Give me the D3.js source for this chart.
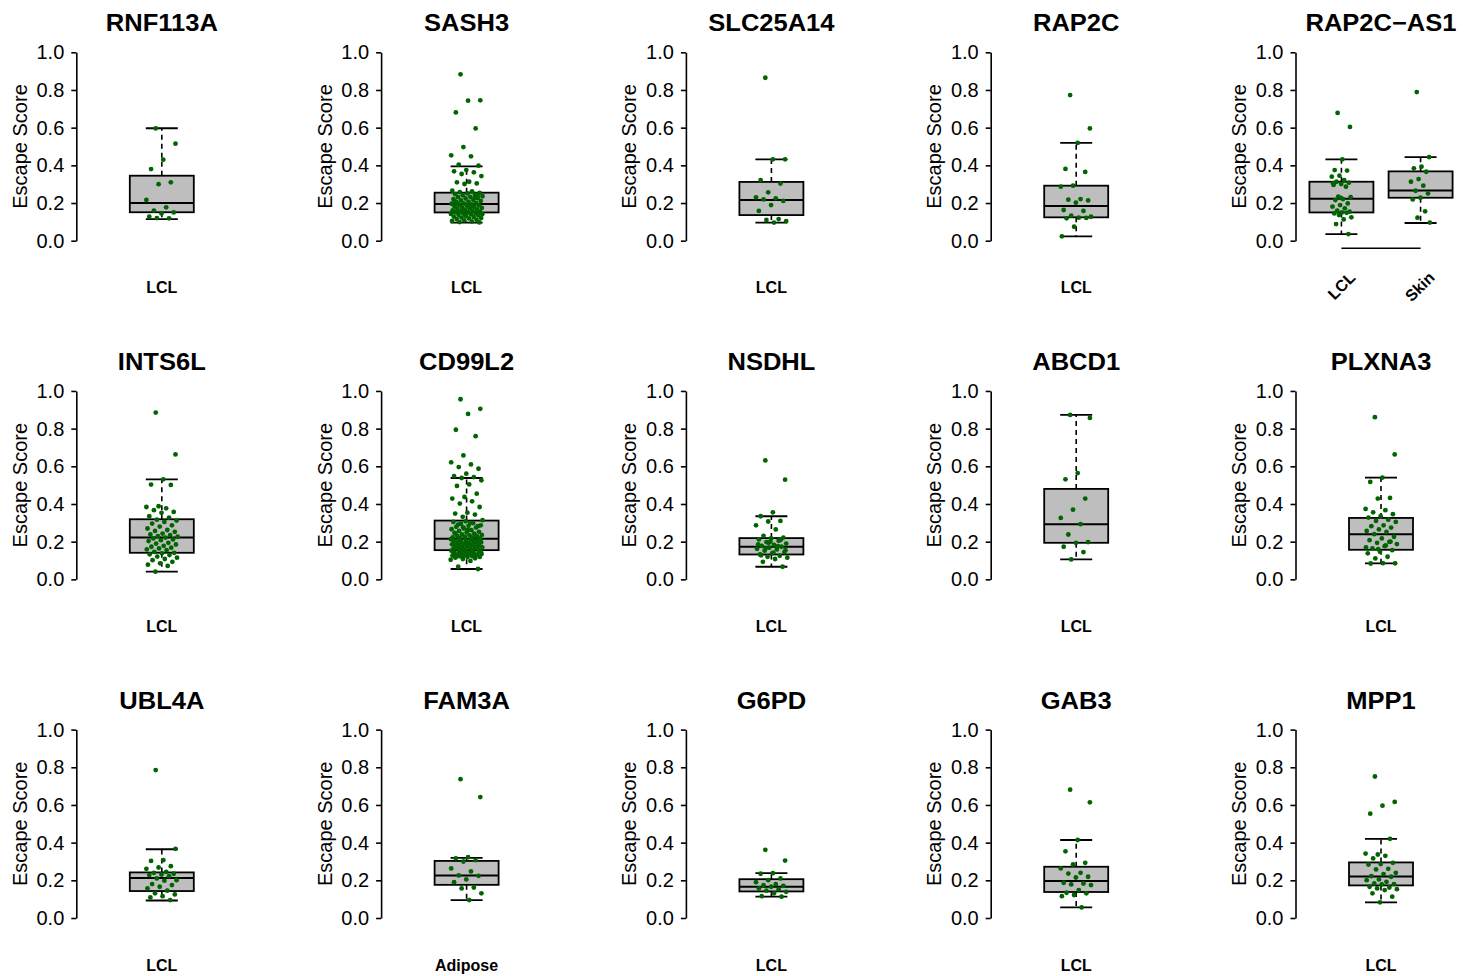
<!DOCTYPE html>
<html>
<head>
<meta charset="utf-8">
<script src="https://cdn.jsdelivr.net/npm/d3@7"></script>
<style>
  body { margin: 0; background: #fff; }
  text { font-family: "Liberation Sans", Arial, Helvetica, sans-serif; }
</style>
</head>
<body>
<svg id="chart" width="1472" height="976"></svg>
<script>
// gene panels, in reading order
const genes = ["RNF113A", "SASH3", "SLC25A14", "RAP2C", "RAP2C\u2212AS1",
               "INTS6L", "CD99L2", "NSDHL", "ABCD1", "PLXNA3",
               "UBL4A", "FAM3A", "G6PD", "GAB3", "MPP1"];

const tissues = [["LCL"], ["LCL"], ["LCL"], ["LCL"], ["LCL", "Skin"],
                 ["LCL"], ["LCL"], ["LCL"], ["LCL"], ["LCL"],
                 ["LCL"], ["Adipose"], ["LCL"], ["LCL"], ["LCL"]];

// box stats per tissue: [lower whisker, Q1, median, Q3, upper whisker]
const boxStats = [
  [[0.115, 0.151, 0.200, 0.345, 0.597]],
  [[0.096, 0.150, 0.195, 0.255, 0.395]],
  [[0.096, 0.136, 0.216, 0.312, 0.432]],
  [[0.023, 0.124, 0.184, 0.292, 0.519]],
  [[0.035, 0.150, 0.223, 0.313, 0.432], [0.094, 0.228, 0.267, 0.368, 0.444]],
  [[0.041, 0.141, 0.222, 0.319, 0.531]],
  [[0.055, 0.155, 0.215, 0.312, 0.538]],
  [[0.067, 0.132, 0.173, 0.219, 0.335]],
  [[0.106, 0.194, 0.293, 0.480, 0.873]],
  [[0.085, 0.157, 0.240, 0.326, 0.540]],
  [[0.093, 0.143, 0.212, 0.242, 0.365]],
  [[0.095, 0.176, 0.226, 0.303, 0.319]],
  [[0.113, 0.141, 0.166, 0.206, 0.238]],
  [[0.056, 0.138, 0.196, 0.272, 0.414]],
  [[0.083, 0.173, 0.220, 0.295, 0.420]]
];

// escape scores (one array per gene / tissue)
const RNF113A_LCL = [0.596, 0.515, 0.43, 0.38, 0.31, 0.30, 0.216, 0.177, 0.16, 0.15, 0.145, 0.127, 0.119, 0.12];
const SASH3_LCL = [0.883, 0.745, 0.743, 0.681, 0.596, 0.497, 0.453, 0.448, 0.404, 0.398, 0.375, 0.368, 0.363,
  0.354, 0.343, 0.313, 0.31, 0.304, 0.301, 0.265, 0.262, 0.258, 0.254, 0.251, 0.247, 0.244, 0.241, 0.236,
  0.233, 0.231, 0.226, 0.224, 0.221, 0.217, 0.214, 0.211, 0.207, 0.204, 0.2, 0.198, 0.196, 0.193, 0.19, 0.188,
  0.186, 0.182, 0.179, 0.177, 0.174, 0.172, 0.169, 0.166, 0.164, 0.161, 0.158, 0.156, 0.154, 0.152, 0.15,
  0.147, 0.145, 0.142, 0.14, 0.137, 0.134, 0.131, 0.128, 0.126, 0.123, 0.12, 0.118, 0.115, 0.112, 0.108,
  0.105, 0.102, 0.099, 0.097, 0.189, 0.21, 0.227, 0.163, 0.141, 0.175, 0.195, 0.238, 0.133, 0.155];
const SLC25A14_LCL = [0.865, 0.432, 0.432, 0.322, 0.303, 0.257, 0.23, 0.225, 0.219, 0.211, 0.189, 0.158, 0.115, 0.11, 0.104, 0.096];
const RAP2C_LCL = [0.773, 0.596, 0.519, 0.381, 0.365, 0.292, 0.287, 0.221, 0.218, 0.214, 0.202, 0.163, 0.158,
  0.133, 0.127, 0.122, 0.119, 0.121, 0.074, 0.023];
const RAP2CAS1_LCL = [0.678, 0.604, 0.432, 0.375, 0.372, 0.345, 0.34, 0.322, 0.313, 0.308, 0.301, 0.296, 0.287,
  0.234, 0.231, 0.221, 0.216, 0.198, 0.189, 0.181, 0.172, 0.159, 0.154, 0.15, 0.145, 0.148, 0.136, 0.124,
  0.113, 0.088, 0.035, 0.227, 0.305];
const RAP2CAS1_Skin = [0.789, 0.444, 0.393, 0.384, 0.366, 0.327, 0.313, 0.292, 0.265, 0.251, 0.228, 0.219, 0.156, 0.122, 0.096];
const INTS6L_LCL = [0.885, 0.663, 0.531, 0.503, 0.501, 0.388, 0.384, 0.377, 0.367, 0.358, 0.353, 0.335, 0.328,
  0.317, 0.312, 0.305, 0.296, 0.287, 0.28, 0.27, 0.262, 0.257, 0.252, 0.243, 0.238, 0.235, 0.229, 0.226,
  0.222, 0.217, 0.212, 0.208, 0.203, 0.194, 0.19, 0.185, 0.178, 0.173, 0.168, 0.164, 0.159, 0.155, 0.146,
  0.141, 0.138, 0.133, 0.129, 0.121, 0.115, 0.108, 0.102, 0.093, 0.085, 0.078, 0.071, 0.041];
const CD99L2_LCL = [0.956, 0.905, 0.878, 0.794, 0.76, 0.658, 0.621, 0.61, 0.596, 0.587, 0.561, 0.548, 0.543,
  0.538, 0.526, 0.504, 0.496, 0.455, 0.437, 0.429, 0.414, 0.402, 0.384, 0.354, 0.349, 0.344, 0.332, 0.314,
  0.3, 0.291, 0.282, 0.308, 0.305, 0.298, 0.294, 0.287, 0.284, 0.279, 0.275, 0.27, 0.266, 0.261, 0.257,
  0.252, 0.249, 0.246, 0.242, 0.239, 0.236, 0.233, 0.23, 0.228, 0.225, 0.223, 0.221, 0.219, 0.217, 0.262,
  0.244, 0.231, 0.276, 0.213, 0.211, 0.209, 0.207, 0.205, 0.202, 0.2, 0.198, 0.196, 0.194, 0.192, 0.19,
  0.188, 0.186, 0.184, 0.182, 0.18, 0.178, 0.176, 0.174, 0.172, 0.17, 0.168, 0.166, 0.164, 0.162, 0.16,
  0.158, 0.156, 0.203, 0.187, 0.171, 0.195, 0.154, 0.152, 0.15, 0.147, 0.146, 0.143, 0.142, 0.139, 0.138,
  0.135, 0.134, 0.131, 0.13, 0.127, 0.126, 0.123, 0.122, 0.119, 0.118, 0.115, 0.112, 0.108, 0.104, 0.098,
  0.067, 0.055, 0.149, 0.141, 0.133, 0.128, 0.145, 0.137, 0.121];
const NSDHL_LCL = [0.631, 0.529, 0.356, 0.335, 0.31, 0.307, 0.287, 0.265, 0.231, 0.222, 0.217, 0.212, 0.205,
  0.198, 0.19, 0.183, 0.178, 0.173, 0.168, 0.162, 0.159, 0.152, 0.145, 0.138, 0.132, 0.125, 0.12, 0.115,
  0.108, 0.093, 0.067, 0.2, 0.186, 0.176, 0.165, 0.155, 0.142, 0.128, 0.21, 0.194];
const ABCD1_LCL = [0.873, 0.857, 0.564, 0.531, 0.429, 0.37, 0.326, 0.293, 0.238, 0.198, 0.194, 0.173, 0.145, 0.106];
const PLXNA3_LCL = [0.861, 0.663, 0.54, 0.517, 0.432, 0.429, 0.374, 0.367, 0.356, 0.346, 0.335, 0.328, 0.317,
  0.31, 0.305, 0.287, 0.282, 0.275, 0.265, 0.257, 0.252, 0.24, 0.226, 0.217, 0.208, 0.199, 0.194, 0.187,
  0.176, 0.164, 0.155, 0.146, 0.138, 0.12, 0.111, 0.085, 0.086, 0.084, 0.2, 0.16, 0.17, 0.18];
const UBL4A_LCL = [0.785, 0.367, 0.307, 0.303, 0.275, 0.268, 0.261, 0.245, 0.24, 0.235, 0.231, 0.228, 0.222,
  0.21, 0.201, 0.198, 0.18, 0.175, 0.166, 0.157, 0.145, 0.131, 0.125, 0.116, 0.109, 0.095];
const FAM3A_Adipose = [0.737, 0.642, 0.323, 0.317, 0.307, 0.3, 0.263, 0.247, 0.226, 0.224, 0.205, 0.19, 0.162, 0.157, 0.131, 0.095];
const G6PD_LCL = [0.362, 0.305, 0.238, 0.235, 0.21, 0.201, 0.19, 0.18, 0.175, 0.171, 0.166, 0.157, 0.152, 0.145, 0.139, 0.131, 0.116, 0.113];
const GAB3_LCL = [0.681, 0.614, 0.414, 0.354, 0.293, 0.284, 0.263, 0.24, 0.236, 0.219, 0.215, 0.187, 0.183,
  0.178, 0.175, 0.148, 0.134, 0.131, 0.122, 0.116, 0.056];
const MPP1_LCL = [0.751, 0.616, 0.596, 0.554, 0.42, 0.337, 0.342, 0.33, 0.316, 0.293, 0.286, 0.284, 0.261,
  0.258, 0.24, 0.233, 0.222, 0.219, 0.205, 0.201, 0.192, 0.183, 0.18, 0.178, 0.166, 0.162, 0.157, 0.153,
  0.148, 0.131, 0.113, 0.083];

const scores = [[RNF113A_LCL], [SASH3_LCL], [SLC25A14_LCL], [RAP2C_LCL], [RAP2CAS1_LCL, RAP2CAS1_Skin],
  [INTS6L_LCL], [CD99L2_LCL], [NSDHL_LCL], [ABCD1_LCL], [PLXNA3_LCL],
  [UBL4A_LCL], [FAM3A_Adipose], [G6PD_LCL], [GAB3_LCL], [MPP1_LCL]];

const yTicks = [0, 0.2, 0.4, 0.6, 0.8, 1.0];

// layout
const svg = d3.select("#chart");
const colStep = 304.8, rowStep = 338.65;
const axisX0 = 76.3, zeroY0 = 240.7, plotH = 188.4, plotW = 171;
const boxW = 64;

genes.forEach((gene, i) => {
  const col = i % 5, row = Math.floor(i / 5);
  const ax = axisX0 + col * colStep;
  const zy = zeroY0 + row * rowStep;
  const groups = tissues[i];
  const n = groups.length;

  const y = d3.scaleLinear().domain([0, 1]).range([zy, zy - plotH]);
  const x = d3.scaleLinear()
    .domain(n === 1 ? [0.46, 1.54] : [0.42, 2.58])
    .range([ax, ax + plotW]);
  const jit = n === 1 ? 16 : 10;

  const g = svg.append("g");

  // title (reference glyphs are a bit wider than Liberation's)
  g.append("text")
    .attr("transform", `translate(${ax + plotW / 2},${zy - 209.5}) scale(1.11,1)`)
    .attr("text-anchor", "middle")
    .attr("font-size", 23)
    .attr("font-weight", "bold")
    .text(gene);

  // y axis
  const yAxis = g.append("g")
    .attr("transform", `translate(${ax},0)`)
    .call(d3.axisLeft(y).tickValues(yTicks).tickFormat(d3.format(".1f"))
      .tickSize(5).tickSizeOuter(0).tickPadding(7));
  yAxis.selectAll("path, line").attr("stroke", "#000").attr("stroke-width", 1.6);
  yAxis.selectAll("text")
    .attr("font-size", 20)
    .attr("fill", "#000")
    .style("font-family", "'Liberation Sans', Arial, sans-serif");

  g.append("text")
    .attr("transform", `translate(${ax - 49.5},${y(0.5)}) rotate(-90)`)
    .attr("text-anchor", "middle")
    .attr("font-size", 20)
    .text("Escape Score");

  groups.forEach((tissue, k) => {
    const cx = x(k + 1);
    const [lo, q1, med, q3, hi] = boxStats[i][k];

    // whiskers
    g.append("line")
      .attr("x1", cx).attr("x2", cx)
      .attr("y1", y(q3)).attr("y2", y(hi))
      .attr("stroke", "#000").attr("stroke-width", 1.6)
      .attr("stroke-dasharray", "5,4");
    g.append("line")
      .attr("x1", cx).attr("x2", cx)
      .attr("y1", y(q1)).attr("y2", y(lo))
      .attr("stroke", "#000").attr("stroke-width", 1.6)
      .attr("stroke-dasharray", "5,4");
    [lo, hi].forEach(v => {
      g.append("line")
        .attr("x1", cx - boxW / 4).attr("x2", cx + boxW / 4)
        .attr("y1", y(v)).attr("y2", y(v))
        .attr("stroke", "#000").attr("stroke-width", 1.8);
    });

    // box
    g.append("rect")
      .attr("x", cx - boxW / 2)
      .attr("width", boxW)
      .attr("y", y(q3))
      .attr("height", y(q1) - y(q3))
      .attr("fill", "#bebebe")
      .attr("stroke", "#000")
      .attr("stroke-width", 1.8);
    g.append("line")
      .attr("x1", cx - boxW / 2).attr("x2", cx + boxW / 2)
      .attr("y1", y(med)).attr("y2", y(med))
      .attr("stroke", "#000").attr("stroke-width", 2);

    // jittered points
    g.selectAll(null)
      .data(scores[i][k])
      .enter().append("circle")
      .attr("cx", (d, j) => cx + (((j * 0.6180339887 + 0.31) % 1) * 2 - 1) * jit)
      .attr("cy", d => y(d))
      .attr("r", 2.4)
      .attr("fill", "#006400");

    // tissue labels
    if (n === 1) {
      g.append("text")
        .attr("x", cx)
        .attr("y", zy + 52.5)
        .attr("text-anchor", "middle")
        .attr("font-size", 16)
        .attr("font-weight", "bold")
        .text(tissue);
    } else {
      g.append("text")
        .attr("transform", `translate(${cx + 15},${zy + 38}) rotate(-45)`)
        .attr("text-anchor", "end")
        .attr("font-size", 16)
        .attr("font-weight", "bold")
        .text(tissue);
    }
  });

  if (n > 1) {
    g.append("line")
      .attr("x1", x(1)).attr("x2", x(n))
      .attr("y1", zy + 7.5).attr("y2", zy + 7.5)
      .attr("stroke", "#000").attr("stroke-width", 1.6);
  }
});
</script>
</body>
</html>
